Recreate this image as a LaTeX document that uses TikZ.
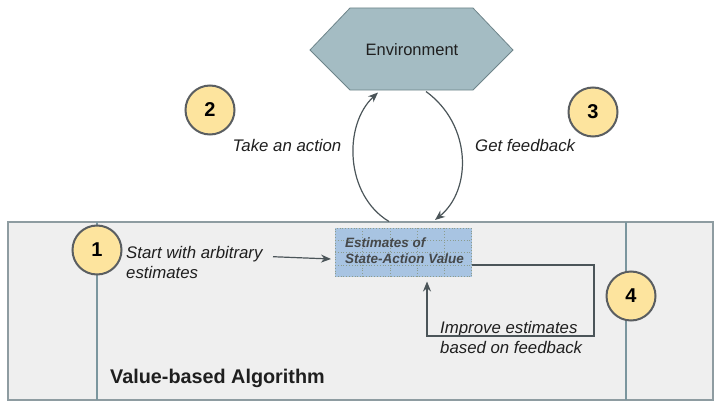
\documentclass[tikz,border=0pt]{standalone}
\usepackage{fontspec}
\setmainfont{Liberation Sans}
\usetikzlibrary{arrows.meta,calc}
\definecolor{boxfill}{HTML}{EFEFEF}
\definecolor{boxline}{HTML}{8E9CA1}
\definecolor{vline}{HTML}{7B969E}
\definecolor{numfill}{HTML}{FDE49E}
\definecolor{numline}{HTML}{5A5E61}
\definecolor{envfill}{HTML}{A4BCC3}
\definecolor{envline}{HTML}{6E848A}
\definecolor{tabfill}{HTML}{A8C4E2}
\definecolor{tabgrid}{HTML}{8C9C8E}
\definecolor{arrowc}{HTML}{4B5559}
\definecolor{txt}{HTML}{1F1F1F}
\definecolor{tabtxt}{HTML}{45484A}
\tikzset{
  numcircle/.style={circle, draw=numline, line width=2pt, fill=numfill, minimum size=49pt, inner sep=0pt, font=\fontsize{20}{24}\selectfont\bfseries, text=black},
  lbl/.style={anchor=base west, inner sep=0pt, font=\fontsize{16.8}{20}\selectfont\itshape, text=txt, align=left},
  conn/.style={draw=arrowc, line width=1.2pt, -{Stealth[length=10pt,width=8pt]}},
  vsep/.style={draw=vline, line width=1.6pt},
}
\begin{document}
\begin{tikzpicture}[x=1pt,y=-1pt]
\useasboundingbox (0,0) rectangle (720,420);
% main box
\node[draw=boxline, line width=1.5pt, fill=boxfill, minimum width=705pt, minimum height=178pt, inner sep=0pt] (algo) at (360.5,311) {};
\draw[vsep] (97,222) -- (97,400);
\draw[vsep] (626,222) -- (626,400);
\node[anchor=base west, inner sep=0pt, font=\fontsize{19.8}{24}\selectfont\bfseries, text=txt] (algoname) at (110,383) {Value-based Algorithm};
% environment hexagon
\draw[draw=envline, line width=0.8pt, fill=envfill] (310,50) -- (350,8) -- (473,8) -- (513,50) -- (473,90) -- (350,90) -- cycle;
\node[inner sep=0pt, anchor=base, font=\fontsize{16.5}{20}\selectfont, text=txt] (env) at (412,56) {Environment};
\coordinate (envin) at (378,92.5);
\coordinate (envout) at (426,91.5);
\coordinate (algoout) at (389,221.5);
\coordinate (algoin) at (435,220);
% table
\node[fill=tabfill, draw=tabgrid, dotted, line width=0.8pt, minimum width=136.7pt, minimum height=48.4pt, inner sep=0pt] (table) at (403.35,252.5) {};
\foreach \x in {362.3,390,417.3,444.3} \draw[tabgrid, dotted, line width=0.8pt] (\x,228.3) -- (\x,276.7);
\foreach \y in {240.7,252.7,265} \draw[tabgrid, dotted, line width=0.8pt] (335,\y) -- (471.7,\y);
\node[anchor=base west, inner sep=0pt, font=\fontsize{13.5}{16}\selectfont\bfseries\itshape, text=tabtxt, align=left] (tabtext) at (345,263) {Estimates of\\State-Action Value};
% numbers
\node[numcircle] (n1) at (97,250) {1};
\node[numcircle] (n2) at (210,110) {2};
\node[numcircle] (n3) at (593,112) {3};
\node[numcircle] (n4) at (631,296) {4};
% labels
\node[lbl] (l1) at (126,278.3) {Start with arbitrary\\estimates};
\node[lbl] (l2) at (232.5,151.7) {Take an action};
\node[lbl] (l3) at (475,151.7) {Get feedback};
\node[lbl] (l4) at (440,353) {Improve estimates\\based on feedback};
% connectors
\coordinate (startfrom) at (273,256.7);
\coordinate (startto) at (331,259);
\draw[conn] (startfrom) -- (startto);
\draw[conn] (algoout) .. controls (345,195) and (343,125) .. (envin);
\draw[conn] (envout) .. controls (472,125) and (472,190) .. (algoin);
\coordinate (loopa) at (594,265);
\coordinate (loopb) at (594,336);
\coordinate (loopc) at (427,336);
\coordinate (loopd) at (427,281.5);
\draw[conn, line width=1.1pt] (table.east |- loopa) -- (loopa) -- (loopb) -- (loopc) -- (loopd);
\end{tikzpicture}
\end{document}
